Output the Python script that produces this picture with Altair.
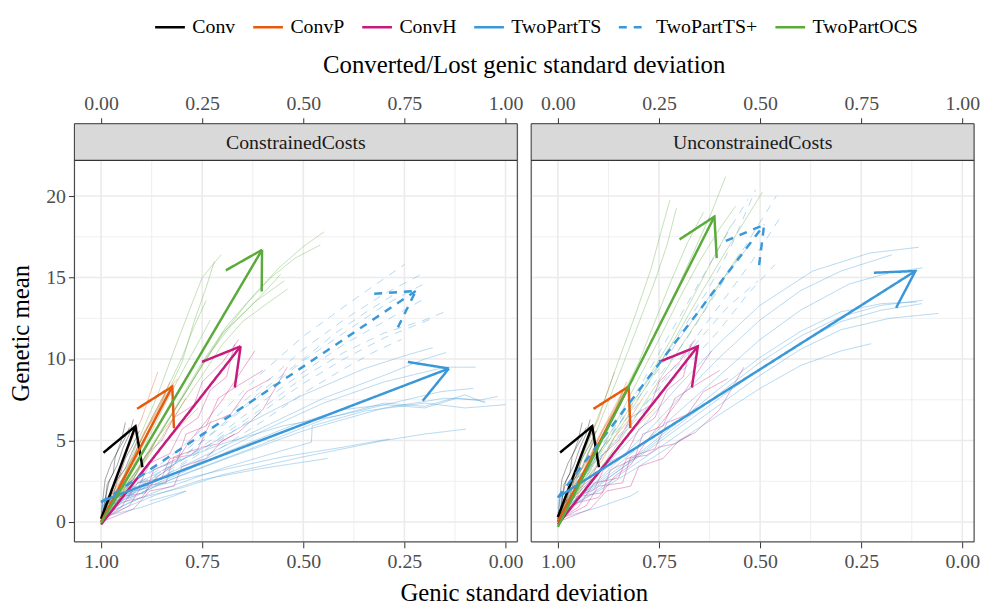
import math
import altair as alt
import pandas as pd

FACETS = ["ConstrainedCosts", "UnconstrainedCosts"]
PROGRAMS = ["Conv", "ConvP", "ConvH", "TwoPartTS", "TwoPartTS+", "TwoPartOCS"]
COLORS = ["#000000", "#e8590c", "#c51b7d", "#3a98d8", "#3a98d8", "#5aab3c"]
DASHES = [[1, 0], [1, 0], [1, 0], [1, 0], [8, 7], [1, 0]]

X_DOMAIN = [1.066, -0.029]
Y_PANEL = [-1.216, 22.19]
X_TICKS = [1.0, 0.75, 0.5, 0.25, 0.0]
X_MINOR = [0.875, 0.625, 0.375, 0.125]
Y_TICKS = [0, 5, 10, 15, 20]
Y_MINOR = [2.5, 7.5, 12.5, 17.5]

TOP_TITLE = "Converted/Lost genic standard deviation"
BOTTOM_TITLE = "Genic standard deviation"
Y_TITLE = "Genetic mean"

# ---- replicate paths (genic sd, genetic mean) ----
CONV_REPS = [
    [(1.0, 0.2), (0.99, 1.2), (0.985, 2.3), (0.97, 3.0), (0.965, 4.0), (0.95, 5.0), (0.94, 6.1)],
    [(1.0, 0.3), (0.98, 1.0), (0.975, 2.0), (0.955, 2.8), (0.94, 3.9), (0.92, 4.8), (0.905, 5.6)],
    [(1.0, 0.1), (0.99, 0.9), (0.97, 1.6), (0.96, 2.6), (0.94, 3.3), (0.925, 4.2), (0.91, 5.0)],
    [(0.995, 0.4), (0.99, 1.4), (0.98, 2.5), (0.96, 3.5), (0.945, 4.6), (0.93, 5.4), (0.92, 6.3)],
    [(1.0, 0.2), (0.985, 0.8), (0.965, 1.5), (0.95, 2.2), (0.93, 3.0), (0.91, 3.8), (0.89, 4.6)],
    [(1.0, 0.3), (0.995, 1.5), (0.99, 2.6), (0.975, 3.6), (0.96, 4.3), (0.94, 5.2), (0.93, 5.8)],
]
CONVP_REPS = [
    [(1.0, 0.1), (0.97, 1.5), (0.94, 3.0), (0.91, 4.6), (0.88, 6.0), (0.85, 7.4), (0.83, 8.6)],
    [(1.0, 0.2), (0.96, 1.2), (0.93, 2.6), (0.89, 3.8), (0.86, 5.2), (0.82, 6.4), (0.79, 7.6)],
    [(1.0, 0.0), (0.975, 1.8), (0.95, 3.4), (0.925, 5.0), (0.9, 6.3), (0.88, 7.8), (0.86, 9.2)],
    [(1.0, 0.3), (0.965, 1.4), (0.92, 2.5), (0.88, 3.6), (0.84, 4.9), (0.8, 6.0), (0.76, 7.0)],
    [(1.0, 0.1), (0.97, 1.9), (0.93, 3.2), (0.9, 5.2), (0.87, 6.6), (0.84, 8.0), (0.81, 8.8)],
    [(1.0, 0.2), (0.98, 1.3), (0.95, 2.9), (0.92, 4.0), (0.89, 5.6), (0.86, 6.8), (0.84, 7.9)],
]
CONVH_REPS = [
    [(1.0, 0.0), (0.95, 1.2), (0.9, 1.5), (0.86, 2.8), (0.82, 3.5), (0.78, 5.0), (0.74, 6.2), (0.7, 7.5), (0.66, 9.0), (0.62, 10.5)],
    [(1.0, 0.1), (0.93, 1.0), (0.9, 2.2), (0.84, 2.4), (0.82, 4.0), (0.76, 4.5), (0.73, 6.1), (0.68, 6.6), (0.64, 8.0), (0.58, 8.8)],
    [(1.0, 0.2), (0.96, 1.5), (0.91, 2.0), (0.88, 3.6), (0.83, 4.2), (0.8, 5.7), (0.76, 6.4), (0.73, 8.1), (0.69, 8.9), (0.67, 10.9)],
    [(1.0, 0.0), (0.92, 0.8), (0.88, 1.9), (0.82, 2.2), (0.8, 3.4), (0.74, 3.9), (0.7, 5.0), (0.66, 5.5), (0.6, 6.9), (0.54, 9.5)],
    [(1.0, 0.1), (0.94, 1.6), (0.89, 1.8), (0.87, 3.2), (0.81, 3.9), (0.79, 5.4), (0.74, 5.9), (0.71, 7.6), (0.66, 8.4), (0.6, 9.3)],
    [(1.0, 0.1), (0.95, 0.9), (0.91, 2.4), (0.85, 2.7), (0.83, 3.9), (0.78, 4.1), (0.75, 4.6), (0.71, 4.8), (0.67, 5.4)],
    [(1.0, 0.2), (0.96, 1.8), (0.92, 2.6), (0.89, 4.1), (0.85, 5.0), (0.82, 6.4), (0.77, 7.2), (0.75, 8.6), (0.7, 9.8), (0.66, 11.2)],
]
CC_OCS_REPS = [
    [(1.0, 0.2), (0.95, 2.0), (0.9, 4.5), (0.85, 7.2), (0.8, 9.8), (0.77, 12.3), (0.74, 14.4), (0.72, 16.0)],
    [(1.0, 0.1), (0.95, 2.4), (0.91, 4.9), (0.86, 7.8), (0.82, 10.5), (0.78, 13.1), (0.75, 15.0), (0.703, 16.4)],
    [(1.0, 0.3), (0.96, 2.1), (0.92, 4.0), (0.88, 6.1), (0.84, 8.0), (0.8, 10.1), (0.77, 12.0), (0.74, 13.6)],
    [(1.0, 0.1), (0.95, 1.8), (0.9, 3.6), (0.85, 5.6), (0.8, 7.6), (0.75, 9.6), (0.7, 11.6), (0.64, 13.0), (0.6, 14.0), (0.556, 15.2)],
    [(1.0, 0.2), (0.94, 1.9), (0.89, 3.9), (0.84, 6.0), (0.79, 8.0), (0.74, 10.1), (0.68, 12.0), (0.62, 13.5), (0.547, 14.8)],
    [(1.0, 0.0), (0.95, 1.6), (0.9, 3.4), (0.85, 5.2), (0.8, 7.2), (0.75, 9.0), (0.7, 10.9), (0.65, 12.3), (0.59, 13.4), (0.539, 14.3)],
    [(1.0, 0.1), (0.94, 2.2), (0.88, 4.4), (0.82, 6.8), (0.76, 9.2), (0.7, 11.5), (0.64, 13.4), (0.58, 15.0), (0.52, 16.2), (0.458, 17.0)],
    [(1.0, 0.2), (0.93, 2.4), (0.87, 4.9), (0.81, 7.3), (0.75, 9.8), (0.69, 12.0), (0.62, 14.0), (0.56, 15.6), (0.5, 16.9), (0.449, 17.8)],
    [(1.0, 0.1), (0.96, 1.5), (0.92, 3.2), (0.88, 5.3), (0.84, 7.3), (0.8, 9.2), (0.76, 11.0), (0.73, 12.4)],
]
CC_TS_REPS = [
    [(1.0, 0.5), (0.92, 1.5), (0.85, 2.4), (0.7, 3.8), (0.5, 5.6), (0.3, 7.0), (0.15, 7.6), (0.06, 7.5), (0.02, 7.7)],
    [(1.0, 0.8), (0.9, 1.8), (0.8, 2.9), (0.62, 4.6), (0.45, 6.3), (0.3, 7.3), (0.2, 7.1), (0.1, 7.8), (0.05, 7.3)],
    [(1.0, 0.3), (0.93, 1.2), (0.85, 2.0), (0.7, 3.3), (0.55, 4.4), (0.48, 4.9), (0.478, 5.9), (0.35, 6.8), (0.2, 7.3), (0.1, 7.0), (0.0, 7.2)],
    [(1.0, 1.0), (0.9, 2.2), (0.78, 3.4), (0.6, 5.6), (0.45, 7.3), (0.3, 8.6), (0.15, 9.5), (0.074, 9.5)],
    [(1.0, 0.6), (0.88, 2.4), (0.75, 4.0), (0.6, 5.8), (0.45, 7.6), (0.3, 9.0), (0.2, 10.0), (0.147, 10.4)],
    [(1.0, 0.9), (0.9, 2.5), (0.8, 3.8), (0.65, 5.9), (0.5, 7.8), (0.35, 9.4), (0.25, 10.2), (0.18, 10.7)],
    [(1.0, 0.4), (0.9, 1.5), (0.8, 2.1), (0.7, 2.9), (0.5, 4.0), (0.3, 5.0), (0.2, 5.4), (0.098, 5.7)],
    [(1.0, 0.7), (0.92, 1.9), (0.85, 2.3), (0.7, 3.2), (0.55, 4.0), (0.4, 4.6), (0.287, 5.1)],
    [(1.0, 0.2), (0.93, 1.0), (0.86, 1.7), (0.75, 2.6), (0.6, 3.3), (0.44, 3.9)],
    [(1.0, 0.5), (0.91, 1.9), (0.82, 2.8), (0.68, 4.4), (0.52, 6.0), (0.4, 6.9), (0.3, 7.2), (0.2, 7.0), (0.12, 7.6), (0.05, 7.4)],
    [(1.0, 1.3), (0.92, 2.6), (0.86, 3.3), (0.7, 4.8), (0.55, 5.9), (0.4, 6.6), (0.28, 7.3), (0.16, 8.0), (0.08, 8.2)],
    [(1.0, 0.3), (0.9, 0.9), (0.82, 1.6), (0.79, 1.9), (0.88, 1.3)],
]
CC_TSP_REPS = [
    [(1.0, 0.8), (0.9, 2.6), (0.8, 4.6), (0.7, 6.8), (0.6, 9.2), (0.5, 11.4), (0.4, 13.2), (0.32, 14.6), (0.25, 15.8)],
    [(1.0, 1.0), (0.9, 2.5), (0.8, 4.2), (0.7, 6.3), (0.6, 8.4), (0.5, 10.6), (0.4, 12.4), (0.3, 14.0), (0.208, 15.2)],
    [(1.0, 0.6), (0.9, 2.2), (0.8, 4.0), (0.7, 5.9), (0.6, 7.9), (0.5, 9.9), (0.4, 11.6), (0.3, 13.3), (0.192, 14.75)],
    [(1.0, 1.2), (0.9, 2.4), (0.8, 3.8), (0.7, 5.5), (0.6, 7.4), (0.5, 9.2), (0.4, 10.9), (0.3, 12.3), (0.208, 13.6)],
    [(1.0, 0.9), (0.9, 2.0), (0.8, 3.5), (0.7, 5.1), (0.6, 6.8), (0.5, 8.5), (0.4, 10.0), (0.3, 11.3), (0.18, 12.5)],
    [(1.0, 0.7), (0.9, 1.8), (0.8, 3.2), (0.7, 4.6), (0.6, 6.2), (0.5, 7.9), (0.4, 9.4), (0.32, 10.5), (0.257, 11.2)],
    [(1.0, 1.1), (0.9, 2.3), (0.8, 3.6), (0.7, 5.3), (0.6, 7.0), (0.5, 8.9), (0.4, 10.4), (0.3, 11.6), (0.2, 12.4), (0.15, 12.9)],
    [(1.0, 0.5), (0.9, 2.0), (0.8, 3.9), (0.7, 6.0), (0.6, 8.1), (0.5, 10.0), (0.42, 11.6), (0.35, 12.8), (0.28, 13.9)],
]
UC_OCS_REPS = [
    [(1.0, 0.2), (0.96, 2.6), (0.92, 5.2), (0.88, 7.8), (0.85, 9.9), (0.81, 12.6), (0.77, 15.5), (0.745, 17.8), (0.723, 19.75)],
    [(1.0, 0.0), (0.96, 2.2), (0.92, 4.6), (0.88, 7.1), (0.84, 9.6), (0.8, 12.2), (0.76, 14.8), (0.73, 17.0), (0.707, 19.25)],
    [(1.0, 0.1), (0.95, 2.3), (0.9, 4.6), (0.85, 7.0), (0.8, 9.5), (0.75, 12.0), (0.7, 14.6), (0.66, 16.8), (0.62, 19.0), (0.585, 21.2)],
    [(1.0, 0.2), (0.94, 2.2), (0.88, 4.4), (0.82, 6.8), (0.76, 9.2), (0.7, 11.7), (0.64, 14.3), (0.58, 16.8), (0.53, 18.8), (0.494, 20.26)],
    [(1.0, 0.0), (0.95, 1.9), (0.9, 4.0), (0.84, 6.3), (0.78, 8.7), (0.72, 11.2), (0.67, 13.6), (0.62, 16.0), (0.572, 18.2)],
    [(1.0, 0.1), (0.95, 2.0), (0.9, 4.1), (0.85, 6.4), (0.8, 8.8), (0.75, 11.2), (0.7, 13.7), (0.65, 16.0), (0.6, 18.0), (0.56, 19.4)],
    [(1.0, 0.3), (0.95, 2.4), (0.9, 4.8), (0.85, 7.3), (0.8, 9.8), (0.76, 12.3), (0.72, 14.8), (0.68, 17.1), (0.64, 19.0)],
    [(1.0, 0.1), (0.94, 1.8), (0.88, 3.8), (0.82, 6.0), (0.76, 8.3), (0.7, 10.6), (0.64, 12.9), (0.6, 14.6), (0.55, 16.5)],
]
UC_TS_REPS = [
    [(1.0, 0.6), (0.9, 3.0), (0.8, 5.6), (0.7, 8.4), (0.6, 11.0), (0.5, 13.3), (0.37, 15.4), (0.23, 16.5), (0.108, 16.86)],
    [(1.0, 0.4), (0.9, 2.6), (0.8, 5.0), (0.7, 7.6), (0.6, 10.1), (0.5, 12.4), (0.4, 14.2), (0.3, 15.4), (0.174, 16.4)],
    [(1.0, 0.5), (0.9, 2.5), (0.8, 4.6), (0.7, 6.8), (0.6, 9.0), (0.5, 11.2), (0.4, 13.0), (0.28, 14.6), (0.18, 15.3), (0.098, 15.6)],
    [(1.0, 0.3), (0.9, 2.2), (0.8, 4.1), (0.7, 6.0), (0.6, 7.9), (0.5, 9.8), (0.4, 11.4), (0.3, 12.6), (0.2, 13.3), (0.098, 13.6)],
    [(1.0, 0.7), (0.9, 2.4), (0.8, 4.2), (0.7, 6.2), (0.6, 8.2), (0.5, 10.1), (0.4, 11.7), (0.3, 12.9), (0.2, 13.4), (0.113, 13.5)],
    [(1.0, 0.4), (0.9, 2.0), (0.8, 3.7), (0.7, 5.4), (0.6, 7.2), (0.5, 9.0), (0.4, 10.6), (0.3, 11.8), (0.18, 12.5), (0.059, 12.8)],
    [(1.0, 0.5), (0.9, 1.9), (0.8, 3.4), (0.7, 5.0), (0.6, 6.6), (0.5, 8.2), (0.4, 9.6), (0.3, 10.5), (0.225, 10.94)],
    [(1.0, 0.6), (0.9, 2.3), (0.8, 4.0), (0.7, 5.8), (0.6, 7.6), (0.5, 9.4), (0.4, 11.0), (0.3, 12.3), (0.2, 13.0), (0.1, 13.4)],
    [(1.0, 0.2), (0.9, 0.9), (0.82, 1.6), (0.8, 1.9)],
]
UC_TSP_REPS = [
    [(1.0, 1.0), (0.92, 3.5), (0.85, 6.0), (0.78, 8.6), (0.7, 11.5), (0.63, 14.2), (0.57, 17.0), (0.511, 20.4)],
    [(1.0, 1.3), (0.92, 3.6), (0.84, 6.0), (0.76, 8.6), (0.68, 11.3), (0.61, 14.0), (0.54, 16.8), (0.46, 20.0)],
    [(1.0, 0.8), (0.92, 3.1), (0.84, 5.5), (0.76, 8.0), (0.68, 10.6), (0.6, 13.3), (0.52, 16.0), (0.45, 18.7)],
    [(1.0, 1.5), (0.92, 3.4), (0.84, 5.4), (0.76, 7.5), (0.68, 9.6), (0.6, 11.8), (0.53, 14.0), (0.463, 15.8)],
    [(1.0, 1.1), (0.93, 3.0), (0.86, 5.0), (0.79, 7.0), (0.72, 9.1), (0.65, 11.2), (0.58, 13.2), (0.505, 14.8)],
    [(1.0, 0.9), (0.93, 3.2), (0.86, 5.6), (0.79, 8.0), (0.72, 10.5), (0.65, 13.0), (0.58, 15.3), (0.52, 17.2)],
    [(1.0, 1.2), (0.93, 3.4), (0.86, 5.8), (0.8, 8.2), (0.74, 10.8), (0.68, 13.4), (0.62, 16.0), (0.57, 18.2), (0.53, 19.8)],
]

REPLICATES = {
    "ConstrainedCosts": {
        "Conv": CONV_REPS, "ConvP": CONVP_REPS, "ConvH": CONVH_REPS,
        "TwoPartTS": CC_TS_REPS, "TwoPartTS+": CC_TSP_REPS, "TwoPartOCS": CC_OCS_REPS,
    },
    "UnconstrainedCosts": {
        "Conv": CONV_REPS, "ConvP": CONVP_REPS, "ConvH": CONVH_REPS,
        "TwoPartTS": UC_TS_REPS, "TwoPartTS+": UC_TSP_REPS, "TwoPartOCS": UC_OCS_REPS,
    },
}

# ---- mean change arrows: start and end (genic sd, genetic mean) ----
ARROW_START = {
    "ConstrainedCosts": {"Conv": (1.0, 0.2), "ConvP": (1.0, 0.0), "ConvH": (1.0, -0.15),
                         "TwoPartTS": (1.0, 1.26), "TwoPartTS+": (1.0, 1.2), "TwoPartOCS": (1.0, -0.05)},
    "UnconstrainedCosts": {"Conv": (1.0, 0.3), "ConvP": (1.0, 0.0), "ConvH": (1.0, -0.15),
                           "TwoPartTS": (1.0, 1.52), "TwoPartTS+": (1.0, 1.5), "TwoPartOCS": (1.0, -0.3)},
}
ARROW_END = {
    "ConstrainedCosts": {"Conv": (0.915, 5.88), "ConvP": (0.824, 8.31), "ConvH": (0.655, 10.78),
                         "TwoPartTS": (0.14, 9.42), "TwoPartTS+": (0.222, 14.18), "TwoPartOCS": (0.602, 16.7)},
    "UnconstrainedCosts": {"Conv": (0.915, 5.88), "ConvP": (0.825, 8.31), "ConvH": (0.654, 10.78),
                           "TwoPartTS": (0.116, 15.4), "TwoPartTS+": (0.49, 18.24), "TwoPartOCS": (0.613, 18.74)},
}

W, H, SH = 447, 385, 37          # panel width, panel height, strip height (px)
FONT = "Liberation Serif"
HEAD_LEN, HEAD_ANGLE = 42.0, 30.0

KX = W / (X_DOMAIN[0] - X_DOMAIN[1])
KY = H / (Y_PANEL[1] - Y_PANEL[0])
Y_DOMAIN = [Y_PANEL[0], Y_PANEL[1] + SH / KY]   # extra room on top for the strip


def thin_rows(facet):
    rows = []
    for prog in PROGRAMS:
        for i, path in enumerate(REPLICATES[facet][prog]):
            for j, (sd, m) in enumerate(path):
                rows.append({"program": prog, "rep": f"{prog}-{i}", "order": j, "sd": sd, "mean": m})
    return pd.DataFrame(rows)


def arrow_rows(facet):
    def to_px(sd, m):
        return (X_DOMAIN[0] - sd) * KX, (Y_DOMAIN[1] - m) * KY

    def to_data(px, py):
        return X_DOMAIN[0] - px / KX, Y_DOMAIN[1] - py / KY

    rows = []
    for prog in PROGRAMS:
        start, end = ARROW_START[facet][prog], ARROW_END[facet][prog]
        sx, sy = to_px(*start)
        tx, ty = to_px(*end)
        ux, uy = sx - tx, sy - ty
        n = math.hypot(ux, uy)
        ux, uy = ux / n, uy / n
        barbs = []
        for sign in (1, -1):
            a = math.radians(HEAD_ANGLE) * sign
            bx = tx + HEAD_LEN * (ux * math.cos(a) - uy * math.sin(a))
            by = ty + HEAD_LEN * (ux * math.sin(a) + uy * math.cos(a))
            barbs.append(to_data(bx, by))
        segs = {"shaft": [start, end], "head": [barbs[0], end, barbs[1]]}
        for sname, pts in segs.items():
            for j, (sd, m) in enumerate(pts):
                rows.append({"program": prog, "seg": f"{prog}-{sname}", "order": j, "sd": sd, "mean": m})
    return pd.DataFrame(rows)


xscale = alt.Scale(domain=X_DOMAIN, nice=False, zero=False)
yscale = alt.Scale(domain=Y_DOMAIN, nice=False, zero=False)
color_scale = alt.Scale(domain=PROGRAMS, range=COLORS)
dash_scale = alt.Scale(domain=PROGRAMS, range=DASHES)

TICK_AXIS = dict(tickColor="#333333", tickSize=6, tickWidth=1, domain=False, grid=False,
                 labelFont=FONT, labelFontSize=20, labelColor="#4d4d4d", labelFlush=False,
                 titleFont=FONT, titleFontSize=25, titleColor="#000000", titleFontWeight="normal")

LEGEND = alt.Legend(title=None, orient="none", legendX=80, legendY=-114, direction="horizontal",
                    symbolType="stroke", symbolStrokeWidth=2.5, symbolSize=900, symbolOpacity=1,
                    labelFont=FONT, labelFontSize=20, labelColor="#000000", columnPadding=12,
                    labelOffset=6, columns=6)


def bottom_axis(left):
    return alt.Axis(values=X_TICKS, format=".2f", labelPadding=4,
                    title=BOTTOM_TITLE if left else None,
                    titleX=453.5, titleAlign="center", titleAnchor="start", titlePadding=9, **TICK_AXIS)


def top_axis(left):
    return alt.Axis(orient="top", values=X_TICKS, labelExpr="format(1 - datum.value, '.2f')",
                    labelPadding=4, title=TOP_TITLE if left else None,
                    titleX=453.5, titleAlign="center", titleAnchor="start", titlePadding=17, **TICK_AXIS)


def xe(field, axis=None):
    return alt.X(f"{field}:Q", scale=xscale, axis=axis)


def ye(field, axis=None):
    return alt.Y(f"{field}:Q", scale=yscale, axis=axis)


def panel(facet, left):
    one = pd.DataFrame({"label": [facet]})
    xg_major = alt.Chart(pd.DataFrame({"v": X_TICKS})).mark_rule(color="#ebebeb", strokeWidth=1.6).encode(
        x=xe("v", bottom_axis(left)))
    xg_top = alt.Chart(pd.DataFrame({"v": X_TICKS})).mark_point(opacity=0).encode(
        x=xe("v", top_axis(left)))
    xg_minor = alt.Chart(pd.DataFrame({"v": X_MINOR})).mark_rule(color="#ebebeb", strokeWidth=0.8).encode(
        x=xe("v"))
    yaxis = alt.Axis(values=Y_TICKS, title=Y_TITLE, labelPadding=3, titlePadding=12, **TICK_AXIS) if left else None
    yg_major = alt.Chart(pd.DataFrame({"w": Y_TICKS})).mark_rule(color="#ebebeb", strokeWidth=1.6).encode(
        y=ye("w", yaxis))
    yg_minor = alt.Chart(pd.DataFrame({"w": Y_MINOR})).mark_rule(color="#ebebeb", strokeWidth=0.8).encode(
        y=ye("w"))
    thin = alt.Chart(thin_rows(facet)).mark_line(strokeWidth=1, opacity=0.38, clip=True).encode(
        x=xe("sd"), y=ye("mean"),
        color=alt.Color("program:N", scale=color_scale, legend=LEGEND),
        strokeDash=alt.StrokeDash("program:N", scale=dash_scale, legend=LEGEND),
        detail="rep:N", order="order:Q")
    thick = alt.Chart(arrow_rows(facet)).mark_line(strokeWidth=2.5, clip=True).encode(
        x=xe("sd"), y=ye("mean"),
        color=alt.Color("program:N", scale=color_scale, legend=LEGEND),
        strokeDash=alt.StrokeDash("program:N", scale=dash_scale, legend=LEGEND),
        detail="seg:N", order="order:Q")
    strip_rect = alt.Chart(one).mark_rect(fill="#d9d9d9", stroke="#333333", strokeWidth=1).encode(
        x=alt.value(0), x2=alt.value(W), y=alt.value(0), y2=alt.value(SH))
    strip_text = alt.Chart(one).mark_text(font=FONT, fontSize=20, color="#1a1a1a",
                                          baseline="middle", align="center").encode(
        x=alt.value(W / 2), y=alt.value(SH / 2 + 1), text="label:N")
    border = alt.Chart(one).mark_rect(fill=None, stroke="#333333", strokeWidth=1).encode(
        x=alt.value(0), x2=alt.value(W), y=alt.value(SH), y2=alt.value(SH + H))
    return alt.layer(xg_major, xg_top, xg_minor, yg_major, yg_minor, thin, thick,
                     strip_rect, strip_text, border).resolve_axis(x="independent", y="independent").properties(
        width=W, height=H + SH)


chart = alt.hconcat(panel(FACETS[0], True), panel(FACETS[1], False), spacing=14, bounds="flush").properties(
    padding={"left": 0, "right": 0, "top": 0, "bottom": 2}
).configure_view(strokeOpacity=0, fill="#ffffff").configure(font=FONT)

chart.save("out.html", embed_options={"renderer": "svg", "actions": False})
